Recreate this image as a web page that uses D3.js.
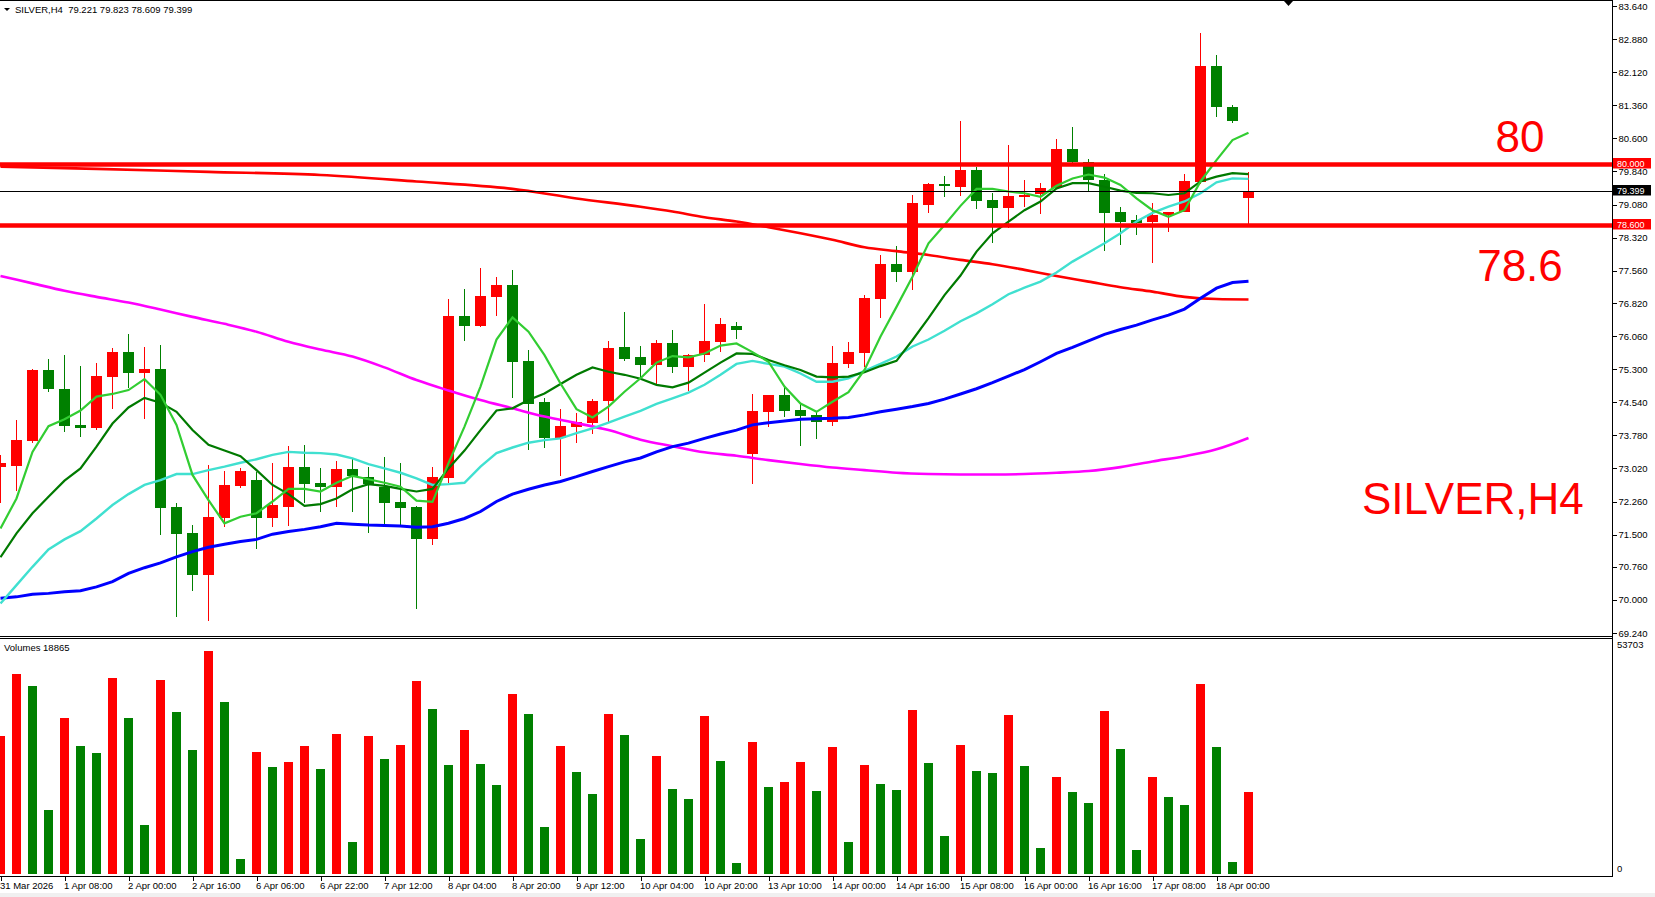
<!DOCTYPE html>
<html>
<head>
<meta charset="utf-8">
<script src="https://cdn.jsdelivr.net/npm/d3@7"></script>
<style>
  html, body { margin: 0; padding: 0; background: #fff; }
  svg { display: block; font-family: "Liberation Sans", Arial, sans-serif; }
  .tick text { font-size: 9.5px; fill: #000; }
</style>
</head>
<body>
<div id="chart"></div>
<script>
// ---- data (SILVER, H4) ----
const symbol = 'SILVER,H4'
const lastQuote = [79.221, 79.823, 78.609, 79.399]

const timeLabels = ['31 Mar 2026', '1 Apr 08:00', '2 Apr 00:00', '2 Apr 16:00', '6 Apr 06:00', '6 Apr 22:00',
    '7 Apr 12:00', '8 Apr 04:00', '8 Apr 20:00', '9 Apr 12:00', '10 Apr 04:00', '10 Apr 20:00', '13 Apr 10:00',
    '14 Apr 00:00', '14 Apr 16:00', '15 Apr 08:00', '16 Apr 00:00', '16 Apr 16:00', '17 Apr 08:00', '18 Apr 00:00']
const timeLabelBars = [0, 4, 8, 12, 16, 20, 24, 28, 32, 36, 40, 44, 48, 52, 56, 60, 64, 68, 72, 76]

const priceTicks = [83.64, 82.88, 82.12, 81.36, 80.6, 79.84, 79.08, 78.32, 77.56, 76.82,
    76.06, 75.3, 74.54, 73.78, 73.02, 72.26, 71.5, 70.76, 70.0, 69.24]

const opens = [73.06, 73.08, 73.65, 75.28, 74.84, 74.02, 73.95, 75.13, 75.69, 75.22,
    75.30, 72.13, 71.54, 70.58, 71.87, 72.62, 72.75, 71.89, 72.14, 73.05,
    72.68, 72.60, 73.00, 72.83, 72.60, 72.25, 72.13, 71.41, 72.81, 76.52,
    76.28, 76.96, 77.23, 75.49, 74.54, 73.72, 73.98, 74.07, 74.57, 75.81,
    75.58, 75.39, 75.89, 75.36, 75.62, 75.93, 76.30, 73.36, 74.32, 74.70,
    74.36, 74.25, 74.09, 75.42, 75.68, 76.91, 77.71, 77.52, 79.08, 79.55,
    79.49, 79.87, 79.18, 79.01, 79.26, 79.32, 79.45, 80.36, 80.05, 79.64,
    78.90, 78.72, 78.69, 78.84, 78.92, 79.60, 82.26, 81.32, 79.221]
const highs = [73.33, 74.13, 75.30, 75.53, 75.63, 75.37, 75.43, 75.78, 76.11, 75.81,
    75.85, 72.22, 71.72, 73.10, 72.96, 73.02, 72.94, 73.14, 73.53, 73.56,
    73.03, 73.19, 73.25, 73.06, 73.29, 73.15, 72.15, 73.06, 76.91, 77.14,
    77.62, 77.42, 77.58, 75.75, 74.63, 74.38, 74.30, 74.61, 75.95, 76.61,
    75.82, 75.97, 76.20, 75.64, 76.80, 76.47, 76.38, 74.73, 74.71, 74.90,
    74.51, 74.32, 75.83, 75.92, 77.00, 77.92, 78.13, 79.30, 79.58, 79.74,
    81.00, 79.95, 79.34, 80.45, 79.64, 79.57, 80.59, 80.86, 80.12, 79.78,
    79.03, 78.84, 79.11, 78.92, 79.78, 83.03, 82.51, 81.37, 79.823]
const lows = [72.22, 72.49, 73.60, 74.78, 73.86, 73.73, 73.90, 74.39, 74.87, 74.15,
    71.49, 69.60, 70.21, 69.52, 71.67, 72.58, 71.16, 71.67, 71.70, 72.23,
    72.03, 72.14, 72.03, 71.53, 71.72, 71.72, 69.78, 71.26, 72.69, 75.95,
    76.27, 76.53, 74.64, 73.44, 73.50, 72.85, 73.61, 73.82, 74.09, 75.49,
    75.13, 74.93, 75.22, 74.80, 75.47, 75.70, 76.00, 72.66, 73.98, 74.21,
    73.54, 73.69, 74.00, 75.32, 75.36, 76.48, 77.29, 77.12, 78.89, 79.26,
    79.28, 78.98, 78.20, 78.53, 79.03, 78.86, 79.44, 80.04, 79.38, 78.02,
    78.14, 78.37, 77.73, 78.46, 78.90, 79.55, 81.08, 80.96, 78.609]
const closes = [73.14, 73.67, 75.28, 74.84, 74.00, 73.95, 75.14, 75.69, 75.22, 75.30,
    72.12, 71.52, 70.58, 71.90, 72.64, 72.96, 71.89, 72.18, 73.05, 72.67,
    72.60, 73.00, 72.85, 72.66, 72.23, 72.12, 71.41, 72.82, 76.52, 76.28,
    76.98, 77.23, 75.47, 74.51, 73.72, 73.99, 74.08, 74.57, 75.79, 75.54,
    75.39, 75.89, 75.36, 75.62, 75.95, 76.34, 76.21, 74.34, 74.70, 74.35,
    74.23, 74.09, 75.44, 75.69, 76.93, 77.71, 77.52, 79.11, 79.55, 79.50,
    79.87, 79.17, 79.01, 79.28, 79.31, 79.47, 80.36, 80.05, 79.64, 78.89,
    78.69, 78.66, 78.85, 78.90, 79.62, 82.26, 81.33, 81.01, 79.399]

const volumes = [31880, 46100, 43330, 14830, 35960, 29500, 27890, 45180, 35960, 11290,
    44790, 37340, 28580, 51400, 39650, 3460, 28120, 24660, 25820, 29500,
    24200, 32270, 7380, 31810, 26510, 29730, 44490, 38030, 25120, 33190,
    25360, 20510, 41490, 36880, 10830, 29500, 23510, 18440, 36880, 32040,
    8070, 27200, 19590, 17290, 36420, 26050, 2540, 30430, 20050, 21210,
    25820, 19130, 29270, 7380, 25120, 20750, 19360, 37800, 25590, 8760,
    29730, 23740, 23280, 36650, 24890, 5990, 22360, 18900, 16370, 37570,
    28810, 5530, 22360, 17750, 15900, 43800, 29270, 2770, 18865]
const volumeMax = 53703

// moving averages as drawn on the chart
const maFast = [71.64, 72.33, 73.40, 73.99, 74.15, 74.35, 74.67, 74.73, 74.82, 75.07,
    74.71, 74.02, 72.87, 72.29, 71.76, 71.91, 71.99, 72.26, 72.55, 72.55,
    72.49, 72.69, 72.85, 72.77, 72.69, 72.60, 72.28, 72.25, 73.14, 73.98,
    74.90, 75.98, 76.49, 76.16, 75.62, 74.97, 74.38, 74.19, 74.44, 74.78,
    75.09, 75.45, 75.60, 75.57, 75.66, 75.84, 75.89, 75.69, 75.47, 74.90,
    74.51, 74.32, 74.55, 74.77, 75.28, 76.05, 76.73, 77.42, 78.19, 78.61,
    79.05, 79.44, 79.44, 79.38, 79.34, 79.26, 79.51, 79.68, 79.77, 79.70,
    79.53, 79.22, 78.95, 78.80, 78.95, 79.61, 80.10, 80.56, 80.73]
const maMid = [70.98, 71.53, 71.99, 72.37, 72.74, 73.02, 73.52, 74.05, 74.42, 74.64,
    74.53, 74.32, 73.90, 73.56, 73.43, 73.30, 72.98, 72.64, 72.43, 72.16,
    72.20, 72.33, 72.54, 72.66, 72.62, 72.55, 72.49, 72.55, 73.02, 73.43,
    73.90, 74.35, 74.40, 74.59, 74.74, 74.96, 75.17, 75.34, 75.24, 75.17,
    75.08, 74.94, 74.88, 74.99, 75.22, 75.45, 75.66, 75.65, 75.51, 75.39,
    75.28, 75.13, 75.11, 75.13, 75.23, 75.37, 75.49, 75.97, 76.47, 77.00,
    77.45, 78.00, 78.42, 78.69, 78.95, 79.15, 79.45, 79.57, 79.57, 79.49,
    79.40, 79.35, 79.34, 79.30, 79.34, 79.61, 79.72, 79.80, 79.78]
const maSlow = [69.92, 70.34, 70.76, 71.16, 71.39, 71.58, 71.87, 72.18, 72.43, 72.64,
    72.75, 72.89, 72.89, 72.98, 73.06, 73.15, 73.23, 73.33, 73.40, 73.38,
    73.37, 73.34, 73.25, 73.12, 73.02, 72.92, 72.79, 72.64, 72.66, 72.69,
    73.06, 73.37, 73.50, 73.61, 73.67, 73.71, 73.83, 73.94, 74.07, 74.21,
    74.34, 74.50, 74.63, 74.76, 74.94, 75.17, 75.42, 75.49, 75.42, 75.36,
    75.20, 75.01, 75.01, 75.09, 75.26, 75.42, 75.59, 75.82, 75.98, 76.18,
    76.40, 76.58, 76.79, 77.02, 77.17, 77.31, 77.52, 77.77, 77.98, 78.19,
    78.42, 78.69, 78.89, 79.03, 79.15, 79.34, 79.59, 79.68, 79.67]
const maBlue = [70.04, 70.07, 70.13, 70.15, 70.19, 70.21, 70.30, 70.42, 70.61, 70.74,
    70.85, 70.99, 71.11, 71.21, 71.28, 71.34, 71.39, 71.51, 71.57, 71.62,
    71.68, 71.76, 71.74, 71.72, 71.71, 71.70, 71.67, 71.68, 71.76, 71.87,
    72.03, 72.26, 72.43, 72.54, 72.64, 72.72, 72.83, 72.95, 73.06, 73.17,
    73.26, 73.40, 73.52, 73.60, 73.71, 73.81, 73.90, 74.02, 74.07, 74.11,
    74.15, 74.16, 74.17, 74.19, 74.25, 74.32, 74.38, 74.44, 74.51, 74.61,
    74.73, 74.85, 74.99, 75.14, 75.29, 75.47, 75.66, 75.80, 75.95, 76.10,
    76.21, 76.31, 76.43, 76.54, 76.68, 76.93, 77.16, 77.29, 77.32]
const maMagentaBars = [0, 2, 4, 6, 8, 10, 12, 14, 16, 18, 20, 22, 24, 26, 28, 30, 32, 34, 36, 38,
    40, 42, 44, 46, 48, 50, 52, 54, 56, 58, 60, 62, 64, 66, 68, 70, 72, 74, 76, 78]
const maMagenta = [77.44, 77.27, 77.10, 76.96, 76.83, 76.67, 76.50, 76.34, 76.16, 75.93,
    75.75, 75.59, 75.34, 75.05, 74.81, 74.59, 74.40, 74.21, 74.06, 73.90,
    73.68, 73.53, 73.39, 73.31, 73.21, 73.12, 73.04, 72.98, 72.92, 72.89,
    72.88, 72.88, 72.89, 72.92, 72.96, 73.05, 73.18, 73.30, 73.46, 73.72]
const maRedBars = [0, 6, 13, 20, 26, 32, 36, 40, 42, 44, 46, 48, 50, 52, 54, 56, 58, 60,
    62, 64, 66, 68, 70, 72, 74, 76, 78]
const maRed = [79.95, 79.90, 79.83, 79.76, 79.61, 79.44, 79.22, 79.03, 78.92, 78.79, 78.69,
    78.56, 78.42, 78.27, 78.10, 78.01, 77.92, 77.81, 77.71, 77.58, 77.44, 77.31,
    77.18, 77.08, 76.96, 76.91, 76.90]

const levels = [80.0, 78.6]
const levelLabels = ['80', '78.6']

// ---- layout ----
const width = 1655
const height = 897
const plotRight = 1612
const mainBottom = 636
const volTop = 638
const volBottom = 876

const upColor = '#ff0000'
const downColor = '#008000'

const svg = d3.select('#chart')
    .append('svg')
    .attr('width', width)
    .attr('height', height)

svg.append('rect')
    .attr('width', width)
    .attr('height', height)
    .attr('fill', '#fff')
svg.append('rect')
    .attr('y', 893)
    .attr('width', width)
    .attr('height', 4)
    .attr('fill', '#f0f0f0')

const x = d3.scaleLinear().domain([0, 78]).range([0.5, 1248.5])
const y = d3.scaleLinear().domain([69.24, 83.64]).range([633, 6])
const yVol = d3.scaleLinear().domain([0, volumeMax]).range([874, 641])

const defs = svg.append('defs')
defs.append('clipPath').attr('id', 'clip-main')
    .append('rect').attr('x', 0).attr('y', 1).attr('width', plotRight).attr('height', mainBottom - 1)
defs.append('clipPath').attr('id', 'clip-vol')
    .append('rect').attr('x', 0).attr('y', volTop).attr('width', plotRight).attr('height', volBottom - volTop)

const bars = d3.range(opens.length).map((i) => ({
    i: i, o: opens[i], h: highs[i], l: lows[i], c: closes[i], v: volumes[i]
}))

// ---- candles ----
const main = svg.append('g').attr('clip-path', 'url(#clip-main)')

const candle = main.append('g')
    .attr('shape-rendering', 'crispEdges')
    .selectAll('g')
    .data(bars)
    .enter()
    .append('g')
    .attr('fill', (d) => d.c >= d.o ? upColor : downColor)
    .attr('stroke', (d) => d.c >= d.o ? upColor : downColor)

candle.append('line')
    .attr('x1', (d) => x(d.i))
    .attr('x2', (d) => x(d.i))
    .attr('y1', (d) => y(d.h))
    .attr('y2', (d) => y(d.l))
    .attr('stroke-width', 1)

candle.append('rect')
    .attr('x', (d) => x(d.i) - 5.5)
    .attr('y', (d) => y(Math.max(d.o, d.c)))
    .attr('width', 11)
    .attr('height', (d) => Math.max(1, Math.abs(y(d.o) - y(d.c))))
    .attr('stroke', 'none')

// ---- moving averages ----
const maLine = d3.line()
    .x((d) => x(d[0]))
    .y((d) => y(d[1]))

const maSeries = [
    { pts: maMagentaBars.map((b, k) => [b, maMagenta[k]]), color: '#ff00ff', w: 2.6, curve: d3.curveMonotoneX },
    { pts: maRedBars.map((b, k) => [b, maRed[k]]), color: '#ff0000', w: 2.6, curve: d3.curveMonotoneX },
    { pts: maBlue.map((v, k) => [k, v]), color: '#0000ff', w: 3, curve: d3.curveLinear },
    { pts: maSlow.map((v, k) => [k, v]), color: '#40e0d0', w: 2.4, curve: d3.curveLinear },
    { pts: maMid.map((v, k) => [k, v]), color: '#007a00', w: 2.2, curve: d3.curveLinear },
    { pts: maFast.map((v, k) => [k, v]), color: '#32cd32', w: 2.2, curve: d3.curveLinear }
]

main.append('g')
    .selectAll('path')
    .data(maSeries)
    .enter()
    .append('path')
    .attr('d', (d) => maLine.curve(d.curve)(d.pts))
    .attr('fill', 'none')
    .attr('stroke', (d) => d.color)
    .attr('stroke-width', (d) => d.w)

// ---- horizontal levels and current price ----
main.append('line')
    .attr('x1', 0).attr('x2', plotRight)
    .attr('y1', Math.round(y(lastQuote[3])) + 0.5).attr('y2', Math.round(y(lastQuote[3])) + 0.5)
    .attr('stroke', '#000').attr('stroke-width', 1)

main.selectAll('.level')
    .data(levels)
    .enter()
    .append('line')
    .attr('class', 'level')
    .attr('x1', 0).attr('x2', plotRight)
    .attr('y1', (d) => y(d)).attr('y2', (d) => y(d))
    .attr('stroke', '#ff0000')
    .attr('stroke-width', 4.5)

// big red annotations
const bigText = svg.append('g')
    .attr('fill', '#ff0000')
    .attr('font-size', 44)
bigText.append('text').attr('x', 1520).attr('y', 152).attr('text-anchor', 'middle').text(levelLabels[0])
bigText.append('text').attr('x', 1520).attr('y', 281).attr('text-anchor', 'middle').text(levelLabels[1])
bigText.append('text').attr('x', 1362).attr('y', 514).text(symbol)

// ---- volumes ----
const vol = svg.append('g')
    .attr('clip-path', 'url(#clip-vol)')
    .attr('shape-rendering', 'crispEdges')

vol.selectAll('rect')
    .data(bars)
    .enter()
    .append('rect')
    .attr('x', (d) => x(d.i) - 4.5)
    .attr('y', (d) => yVol(d.v))
    .attr('width', 9)
    .attr('height', (d) => yVol(0) - yVol(d.v))
    .attr('fill', (d) => (d.i === 0 || d.v > volumes[d.i - 1]) ? upColor : downColor)

// ---- frames ----
const frame = svg.append('g')
    .attr('stroke', '#000')
    .attr('shape-rendering', 'crispEdges')
frame.append('line').attr('x1', 0).attr('x2', plotRight).attr('y1', 0.5).attr('y2', 0.5)
frame.append('line').attr('x1', 0).attr('x2', plotRight).attr('y1', mainBottom + 0.5).attr('y2', mainBottom + 0.5)
frame.append('line').attr('x1', 0).attr('x2', plotRight).attr('y1', volTop + 0.5).attr('y2', volTop + 0.5)
frame.append('line').attr('x1', 0).attr('x2', plotRight).attr('y1', volBottom + 0.5).attr('y2', volBottom + 0.5)
frame.append('line').attr('x1', plotRight + 0.5).attr('x2', plotRight + 0.5).attr('y1', 0).attr('y2', volBottom + 1)

// ---- axes ----
const priceAxis = svg.append('g')
    .attr('transform', `translate(${plotRight + 0.5}, 0)`)
    .call(d3.axisRight(y).tickValues(priceTicks).tickSize(4).tickPadding(2).tickFormat(d3.format('.3f')))
priceAxis.select('.domain').remove()

const timeAxis = svg.append('g')
    .attr('transform', `translate(0, ${volBottom + 0.5})`)
    .call(d3.axisBottom(x).tickValues(timeLabelBars).tickSize(4).tickPadding(2)
        .tickFormat((d, i) => timeLabels[i]))
timeAxis.select('.domain').remove()
timeAxis.selectAll('.tick text')
    .attr('text-anchor', 'start')
    .attr('x', -1)

svg.selectAll('.tick line').attr('shape-rendering', 'crispEdges')

// volume panel scale labels
svg.append('text').attr('x', 1617).attr('y', 648).attr('font-size', 9.5).text(volumeMax)
svg.append('text').attr('x', 1617).attr('y', 872).attr('font-size', 9.5).text(0)
svg.append('text').attr('x', 4).attr('y', 651).attr('font-size', 9.5)
    .text(`Volumes ${volumes[volumes.length - 1]}`)

// ---- price tags on the axis ----
const tags = [
    { v: levels[0], bg: '#ff0000' },
    { v: levels[1], bg: '#ff0000' },
    { v: lastQuote[3], bg: '#000' }
]
const tag = svg.selectAll('.tag')
    .data(tags)
    .enter()
    .append('g')
    .attr('class', 'tag')
    .attr('transform', (d) => `translate(${plotRight + 1}, ${Math.round(y(d.v))})`)
tag.append('rect')
    .attr('x', 0).attr('y', -6)
    .attr('width', 38).attr('height', 10.5)
    .attr('fill', (d) => d.bg)
tag.append('text')
    .attr('x', 4).attr('y', 3)
    .attr('font-size', 9)
    .attr('fill', '#fff')
    .text((d) => d3.format('.3f')(d.v))

// ---- header ----
svg.append('path')
    .attr('d', 'M4,8 L10,8 L7,11 Z')
    .attr('fill', '#000')
svg.append('text')
    .attr('x', 15).attr('y', 13)
    .attr('font-size', 9.5)
    .text(`${symbol}  ${lastQuote.map(d3.format('.3f')).join(' ')}`)
    .attr('xml:space', 'preserve')
    .style('white-space', 'pre')

// chart shift marker
svg.append('path')
    .attr('d', 'M1284,1 L1293,1 L1288.5,6 Z')
    .attr('fill', '#000')
</script>
</body>
</html>
